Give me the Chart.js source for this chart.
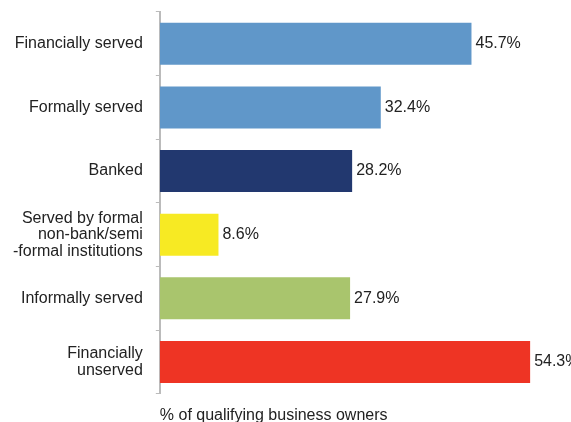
<!DOCTYPE html>
<html>
<head>
<meta charset="utf-8">
<script src="https://cdn.jsdelivr.net/npm/chart.js"></script>
<style>
  html, body { margin: 0; padding: 0; background: #fff; }
  #wrap { width: 571px; height: 422px; }
</style>
</head>
<body>
<div id="wrap"><canvas id="barChart"></canvas></div>
<script>
// datos del grafico
var categorias = [
  "Financially served",
  "Formally served",
  "Banked",
  ["Served by formal", "non-bank/semi", "-formal institutions"],
  "Informally served",
  ["Financially", "unserved"]
];
var valores = [45.7, 32.4, 28.2, 8.6, 27.9, 54.3];
var colores = ["#6097c9", "#6097c9", "#22386f", "#f7ea23", "#a9c56d", "#ee3424"];
var tituloEjeX = "% of qualifying business owners";

var fuente = "'Liberation Sans', Arial, sans-serif";

// etiquetas al final de cada barra
var etiquetasBarras = {
  id: "etiquetasBarras",
  afterDatasetsDraw: function (chart) {
    var ctx = chart.ctx;
    var meta = chart.getDatasetMeta(0);
    ctx.save();
    ctx.font = "16px " + fuente;
    ctx.fillStyle = "#222";
    ctx.textAlign = "left";
    ctx.textBaseline = "middle";
    meta.data.forEach(function (bar, i) {
      ctx.fillText(valores[i].toFixed(1) + "%", bar.x + 4, bar.y);
    });
    ctx.restore();
  }
};

var ctx = document.getElementById("barChart").getContext("2d");
new Chart(ctx, {
  type: "bar",
  data: {
    labels: categorias,
    datasets: [
      {
        data: valores,
        backgroundColor: colores,
        borderWidth: 0,
        barPercentage: 0.66,
        categoryPercentage: 1.0
      }
    ]
  },
  options: {
    indexAxis: "y",
    responsive: true,
    maintainAspectRatio: false,
    animation: false,
    layout: { padding: { top: 12, right: 2, left: 0, bottom: 0 } },
    plugins: {
      legend: { display: false },
      tooltip: { enabled: false }
    },
    scales: {
      x: {
        min: 0,
        max: 60,
        grid: { display: false },
        border: { display: false },
        ticks: { display: false },
        title: {
          display: true,
          text: tituloEjeX,
          align: "start",
          color: "#222",
          font: { family: fuente, size: 16 },
          padding: { top: 4, bottom: -3 }
        }
      },
      y: {
        afterFit: function (scale) {
          // sin relleno extra por la altura de las etiquetas
          scale.paddingTop = 0;
          scale.paddingBottom = 0;
        },
        grid: {
          drawOnChartArea: false,
          offset: true,
          tickLength: 4,
          color: "#bbb"
        },
        border: { color: "#bbb", width: 2 },
        ticks: {
          color: "#222",
          padding: 13,
          font: { family: fuente, size: 16, lineHeight: 1.03 }
        }
      }
    }
  },
  plugins: [etiquetasBarras]
});
</script>
</body>
</html>
